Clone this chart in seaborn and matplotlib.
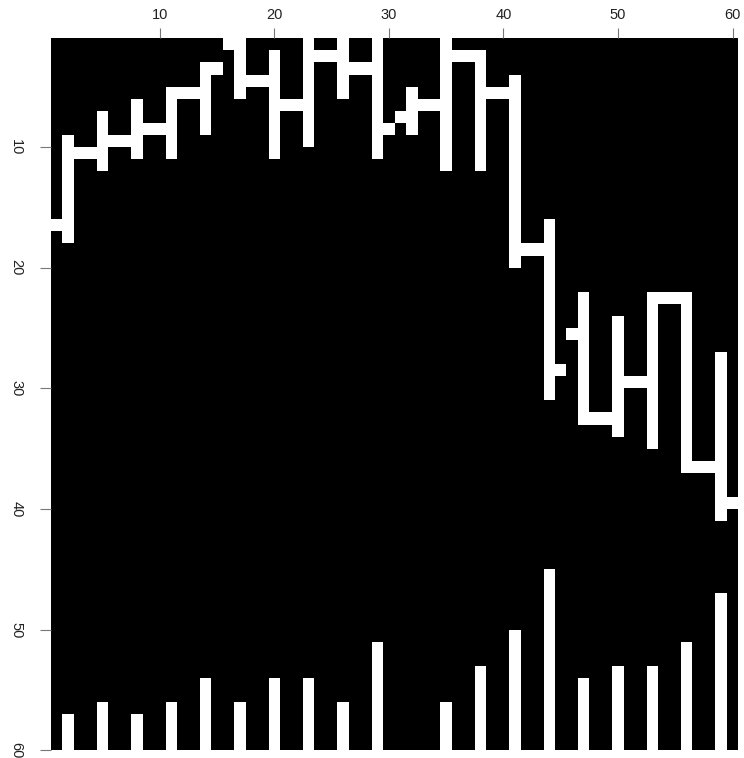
import numpy as np
import matplotlib.pyplot as plt
import seaborn as sns
from matplotlib.colors import ListedColormap

# 60 x 60 binary grid, rows counted from the top (row 0 is cut off by the frame)
n_rows, n_cols = 60, 60

# vertical strokes, one every third column
pt_cols = [1, 4, 7, 10, 13, 16, 19, 22, 25, 28, 31, 34, 37, 40, 43, 46, 49, 52, 55, 58]
seg_top = [9, 7, 6, 5, 3, 1, 2, 1, 1, 1, 5, 1, 2, 4, 16, 22, 24, 22, 22, 27]
seg_bot = [17, 11, 10, 10, 8, 5, 10, 9, 5, 10, 8, 11, 11, 19, 30, 32, 33, 34, 36, 40]

# bars standing on the bottom edge (60 = no bar)
bar_top = [57, 56, 57, 56, 54, 56, 54, 54, 56, 51, 60, 56, 53, 50, 45, 54, 53, 53, 51, 47]

# single cells joining the strokes
link_cols = [0, 2, 3, 5, 6, 8, 9, 11, 12, 14, 15, 17, 18, 20, 21, 23, 24, 26, 27,
             29, 30, 32, 33, 35, 36, 38, 39, 41, 42, 44, 45, 47, 48, 50, 51, 53, 54,
             56, 57, 59]
link_rows = [16, 10, 10, 9, 9, 8, 8, 5, 5, 3, 1, 4, 4, 6, 6, 2, 2, 3, 3,
             8, 7, 6, 6, 2, 2, 5, 5, 18, 18, 28, 25, 32, 32, 29, 29, 22, 22,
             36, 36, 39]

tick_vals = [10, 20, 30, 40, 50, 60]

grid = np.zeros((n_rows, n_cols))
for c, a, b, t in zip(pt_cols, seg_top, seg_bot, bar_top):
    grid[a:b + 1, c] = 1
    grid[t:, c] = 1
for c, r in zip(link_cols, link_rows):
    grid[r, c] = 1
grid[0] = grid[1]

plt.rcParams['font.family'] = ['Liberation Sans', 'DejaVu Sans']

fig = plt.figure(figsize=(7.44, 7.58), dpi=100)
ax = fig.add_axes([51 / 744, 1 - 750.4 / 758, 687.3 / 744, 712.1 / 758])
sns.heatmap(grid, cmap=ListedColormap(['black', 'white']), cbar=False, ax=ax,
            xticklabels=False, yticklabels=False, vmin=0, vmax=1)
ax.set_ylim(n_rows, 1)

ax.set_xticks([v - 0.5 for v in tick_vals])
ax.set_xticklabels([str(v) for v in tick_vals])
ax.xaxis.tick_top()
ax.set_yticks(tick_vals)
ax.set_yticklabels([str(v) for v in tick_vals], rotation=-90, va='center')

ax.tick_params(axis='x', top=True, bottom=False, length=7, width=0.8,
               color='#777777', labelsize=10.5, labelcolor='#222222', pad=5)
ax.tick_params(axis='y', left=True, length=8, width=0.8,
               color='#777777', labelsize=10.5, labelcolor='#222222', pad=12)

fig.savefig('out.png', dpi=100)
